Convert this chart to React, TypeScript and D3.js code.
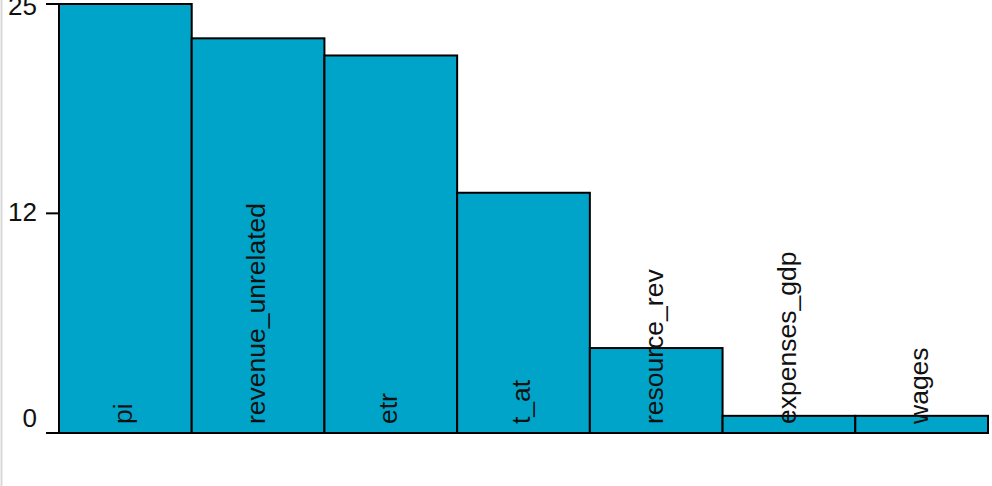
import React, { useRef, useEffect } from "react";
import * as d3 from "d3";

const categories = ["pi", "revenue_unrelated", "etr", "t_at", "resource_rev", "expenses_gdp", "wages"];
const values = [25, 23.0, 22.0, 14.0, 4.95, 1.0, 1.0];
const yTickValues = [0, 12.8, 25];
const yTickLabels = ["0", "12", "25"];

const App = () => {
  const svgRef = useRef<SVGSVGElement>(null);
  const width = 992;
  const height = 486;

  useEffect(() => {
    const svg = d3.select(svgRef.current);
    svg.selectAll("*").remove();

    const x = d3.scaleBand().domain(categories).range([59, 988]).padding(0);
    const y = d3.scaleLinear().domain([0, 25]).range([433, 4]);
    // labels sit evenly spread along the axis, not exactly on the ticks
    const labelY = d3.scaleLinear().domain([0, yTickLabels.length - 1]).range([418, 6]);

    // faint frame line on the left edge
    svg.append("line")
      .attr("x1", 1.5).attr("x2", 1.5)
      .attr("y1", 0).attr("y2", height)
      .attr("stroke", "#d9d9d9")
      .attr("stroke-width", 2);

    // bars
    svg.append("g")
      .selectAll("rect")
      .data(values)
      .join("rect")
      .attr("x", (d, i) => x(categories[i]) as number)
      .attr("y", d => y(d))
      .attr("width", x.bandwidth())
      .attr("height", d => y(0) - y(d))
      .attr("fill", "#01a4c9")
      .attr("stroke", "#000")
      .attr("stroke-width", 2);

    // baseline
    svg.append("line")
      .attr("x1", 46).attr("x2", 988)
      .attr("y1", y(0)).attr("y2", y(0))
      .attr("stroke", "#000")
      .attr("stroke-width", 2);

    // y ticks
    const yAxis = svg.append("g");
    yAxis.selectAll("line")
      .data(yTickValues)
      .join("line")
      .attr("x1", 46).attr("x2", 59)
      .attr("y1", d => y(d)).attr("y2", d => y(d))
      .attr("stroke", "#000")
      .attr("stroke-width", 2);
    yAxis.selectAll("text")
      .data(yTickLabels)
      .join("text")
      .attr("x", 37)
      .attr("y", (d, i) => labelY(i))
      .attr("dy", "0.36em")
      .attr("text-anchor", "end")
      .attr("font-family", "Liberation Sans, Arial, sans-serif")
      .attr("font-size", "26px")
      .attr("fill", "#111")
      .text(d => d);

    // rotated category labels inside bars
    svg.append("g")
      .selectAll("text")
      .data(categories)
      .join("text")
      .attr("transform", d => `translate(${(x(d) as number) + x.bandwidth() / 2},${y(0) - 9}) rotate(-90)`)
      .attr("dy", "0.25em")
      .attr("text-anchor", "start")
      .attr("font-family", "Liberation Sans, Arial, sans-serif")
      .attr("font-size", "26.5px")
      .attr("fill", "#111")
      .text(d => d);
  }, []);

  return (
    <div style={{ position: "absolute", left: 0, top: 0 }}>
      <svg ref={svgRef} width={width} height={height} style={{ display: "block", background: "#fff" }} />
    </div>
  );
};

export default App;
